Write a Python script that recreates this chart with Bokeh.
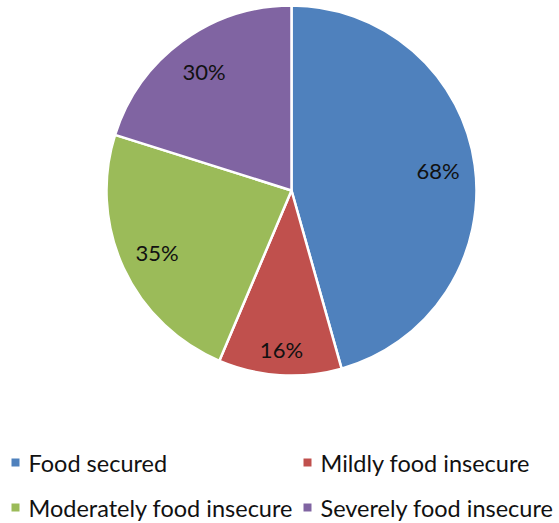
import numpy as np
from bokeh.plotting import figure
from bokeh.models import ColumnDataSource, Range1d
from bokeh.core.properties import value
from bokeh.embed import file_html
from bokeh.resources import INLINE

categories = ["Food secured", "Mildly food  insecure", "Moderately food insecure", "Severely food insecure"]
values = [68, 16, 35, 30]
labels = ["68%", "16%", "35%", "30%"]
colors = ["#4F81BD", "#C0504D", "#9BBB59", "#8064A2"]

W, H = 559, 523
p = figure(width=W, height=H, output_backend="svg", toolbar_location=None,
           x_range=Range1d(0, W), y_range=Range1d(0, H), min_border=0)
p.axis.visible = False
p.grid.visible = False
p.outline_line_color = None
p.background_fill_color = "white"

cx, cy, r = 291, H - 190, 185
vals = np.array(values, dtype=float)
frac = vals / vals.sum()
cum = np.concatenate([[0], np.cumsum(frac)]) * 2 * np.pi
start = np.pi / 2 - cum[:-1]
end = np.pi / 2 - cum[1:]
mid = (start + end) / 2

src = ColumnDataSource(dict(start=start, end=end, color=colors))
p.wedge(x=cx, y=cy, radius=r, start_angle="start", end_angle="end", direction="clock",
        fill_color="color", line_color="white", line_width=2.5, source=src)

lf = np.array([0.80, 0.86, 0.80, 0.80])
lsrc = ColumnDataSource(dict(x=cx + lf * r * np.cos(mid), y=cy + lf * r * np.sin(mid), t=labels))
p.text(x="x", y="y", text="t", source=lsrc, text_align="center", text_baseline="middle",
       text_font=value("Lato"), text_font_size="22px", text_color="#111111")

# legend
col_x = [11, 303]
row_y = [H - 462, H - 507]
lx = [col_x[i % 2] for i in range(4)]
ly = [row_y[i // 2] for i in range(4)]
leg = ColumnDataSource(dict(x=[v + 4 for v in lx], tx=[v + 17 for v in lx], y=ly, c=colors, t=categories))
p.rect(x="x", y="y", width=8, height=8, fill_color="c", line_color=None, source=leg)
p.text(x="tx", y="y", text="t", source=leg, text_align="left", text_baseline="middle",
       text_font=value("Lato"), text_font_size="23.5px", text_color="#111111")

open("out.html", "w").write(file_html(p, INLINE))
